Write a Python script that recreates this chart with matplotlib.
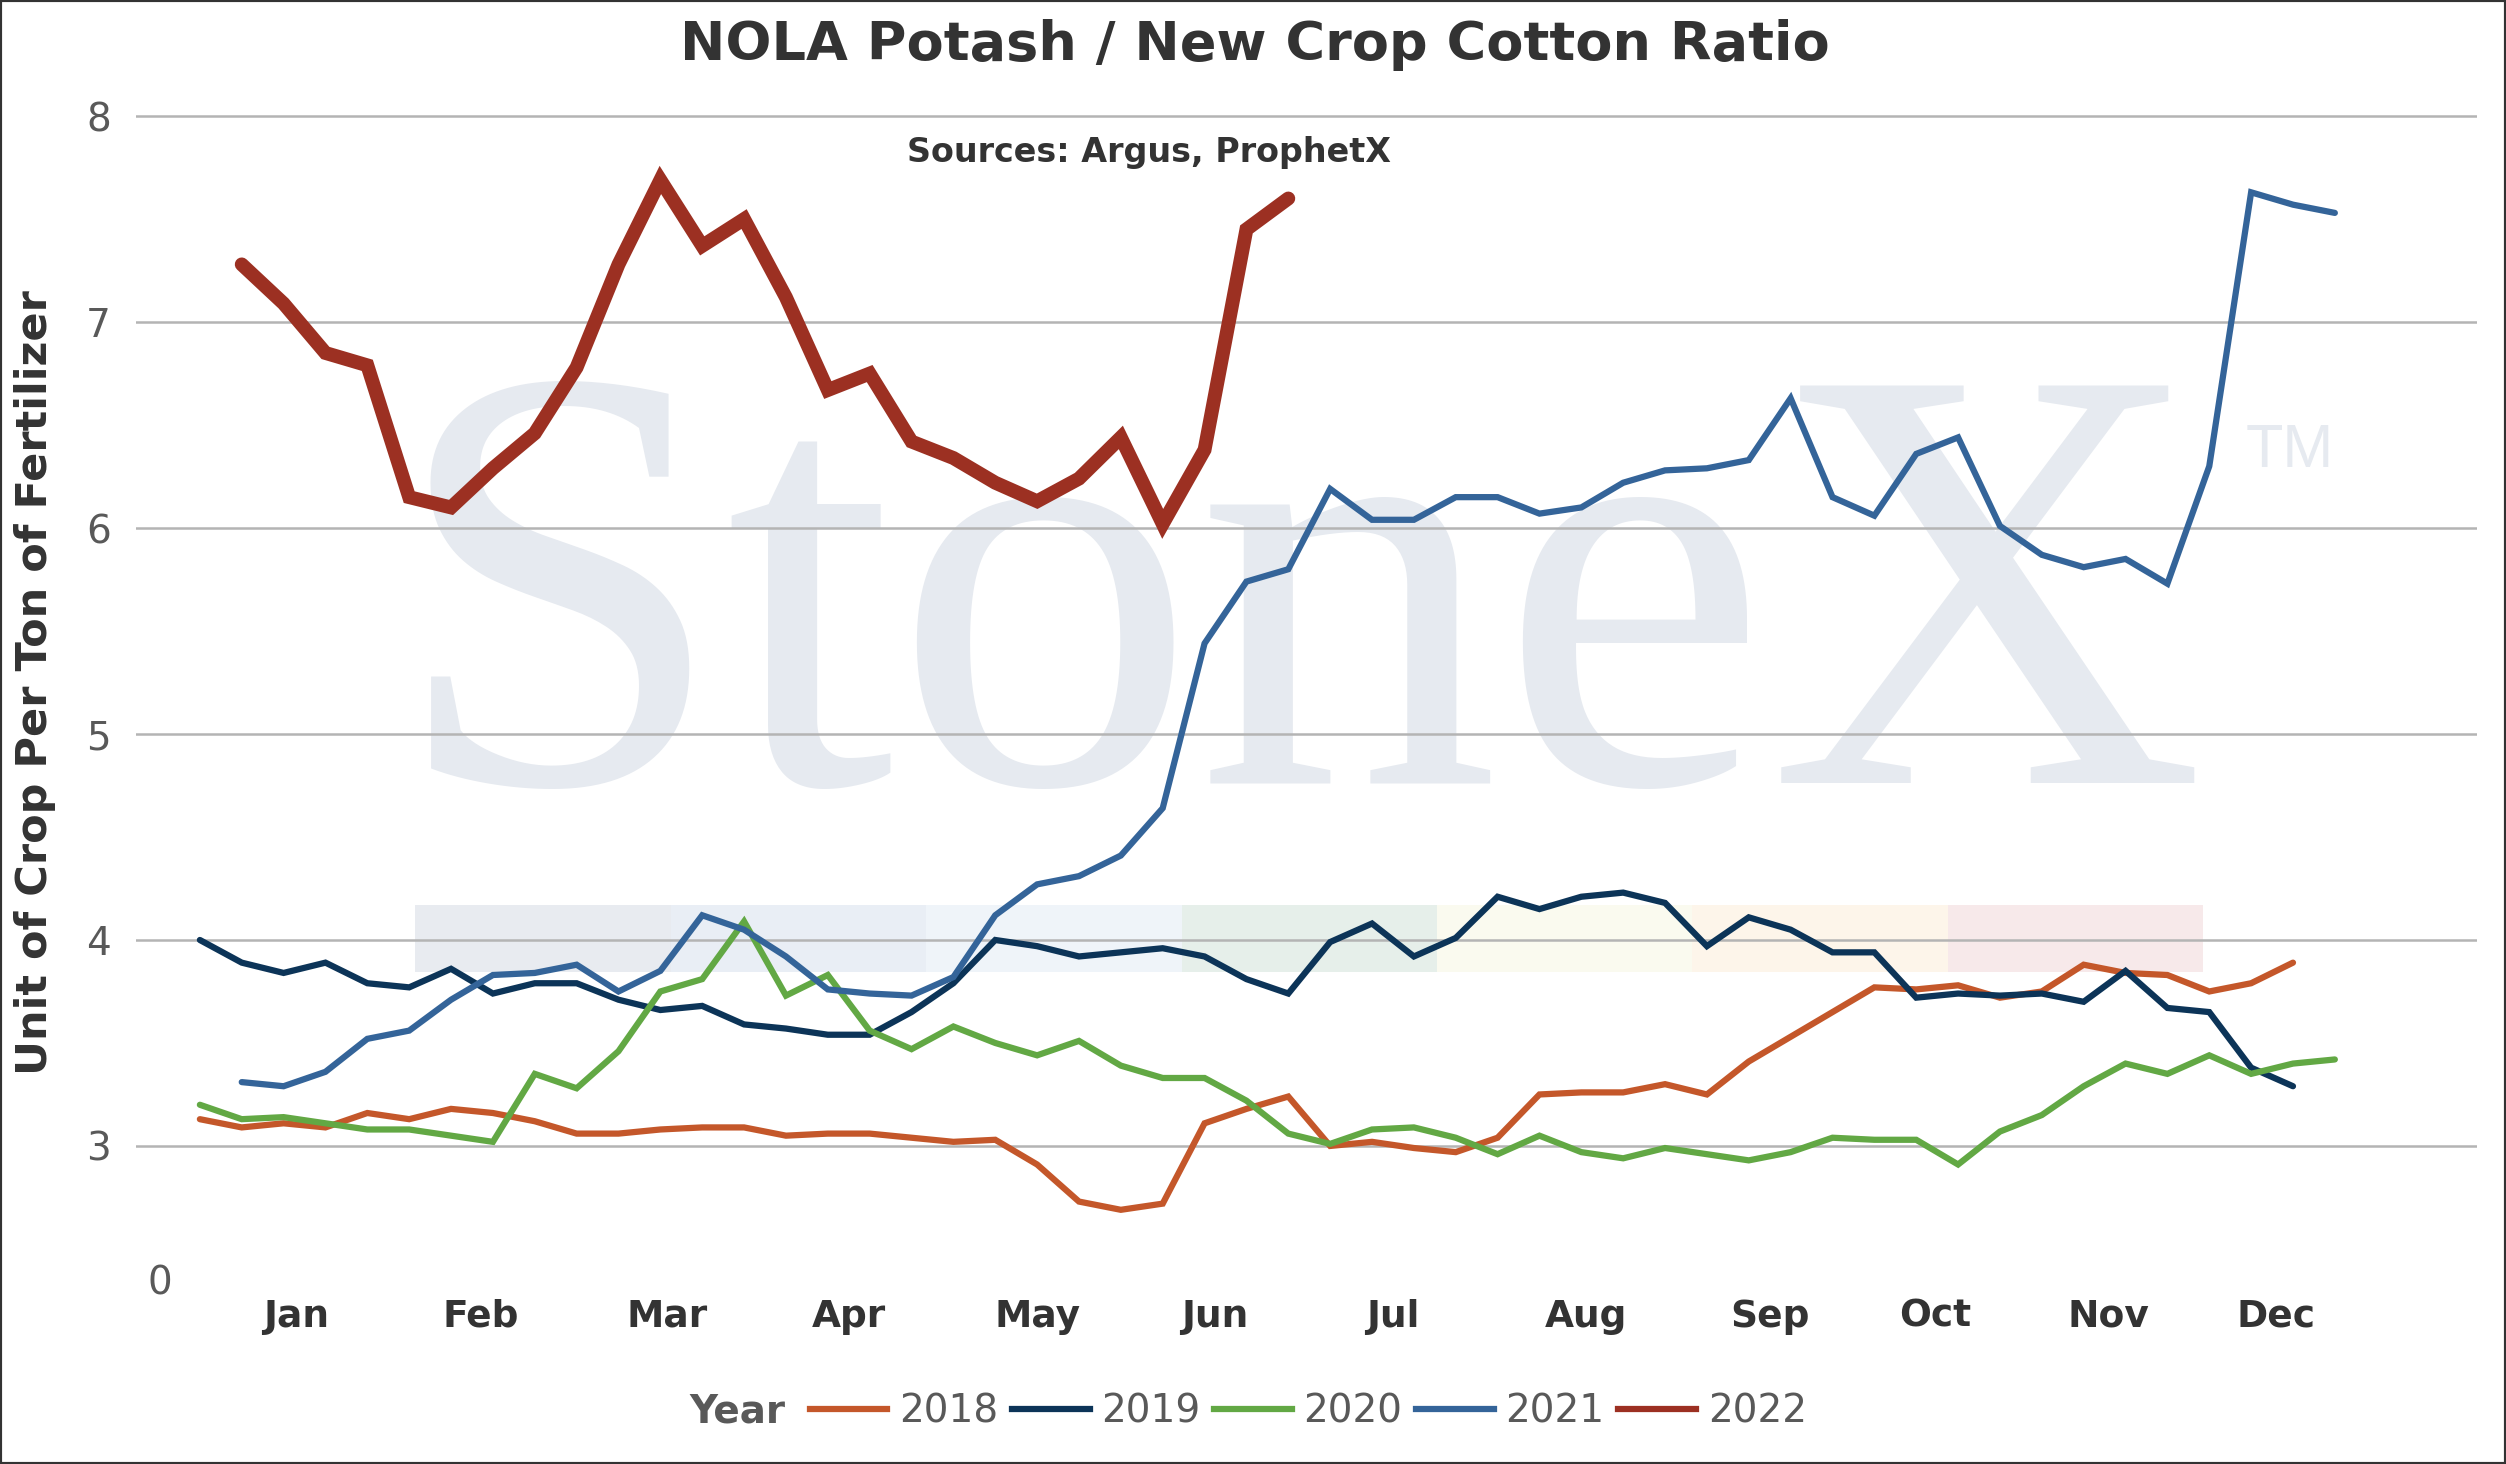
import numpy as np
import matplotlib
matplotlib.use("Agg")
import matplotlib.pyplot as plt
from matplotlib.patches import Rectangle
from matplotlib.lines import Line2D

# weekly ratio values (week index 0..51)
y2018 = [3.13, 3.09, 3.11, 3.09, 3.16, 3.13, 3.18, 3.16, 3.12, 3.06,
         3.06, 3.08, 3.09, 3.09, 3.05, 3.06, 3.06, 3.04, 3.02, 3.03,
         2.91, 2.73, 2.69, 2.72, 3.11, 3.18, 3.24, 3.00, 3.02, 2.99,
         2.97, 3.04, 3.25, 3.26, 3.26, 3.30, 3.25, 3.41, 3.53, 3.65,
         3.77, 3.76, 3.78, 3.72, 3.75, 3.88, 3.84, 3.83, 3.75, 3.79, 3.89]
y2019 = [4.00, 3.89, 3.84, 3.89, 3.79, 3.77, 3.86, 3.74, 3.79, 3.79,
         3.71, 3.66, 3.68, 3.59, 3.57, 3.54, 3.54, 3.65, 3.79, 4.00,
         3.97, 3.92, 3.94, 3.96, 3.92, 3.81, 3.74, 3.99, 4.08, 3.92,
         4.01, 4.21, 4.15, 4.21, 4.23, 4.18, 3.97, 4.11, 4.05, 3.94,
         3.94, 3.72, 3.74, 3.73, 3.74, 3.70, 3.85, 3.67, 3.65, 3.38, 3.29]
y2020 = [3.20, 3.13, 3.14, 3.11, 3.08, 3.08, 3.05, 3.02, 3.35, 3.28,
         3.46, 3.75, 3.81, 4.09, 3.73, 3.83, 3.56, 3.47, 3.58, 3.50,
         3.44, 3.51, 3.39, 3.33, 3.33, 3.22, 3.06, 3.01, 3.08, 3.09,
         3.04, 2.96, 3.05, 2.97, 2.94, 2.99, 2.96, 2.93, 2.97, 3.04,
         3.03, 3.03, 2.91, 3.07, 3.15, 3.29, 3.40, 3.35, 3.44, 3.35, 3.40, 3.42]
# 2021 starts at week 1
y2021 = [3.31, 3.29, 3.36, 3.52, 3.56, 3.71, 3.83, 3.84, 3.88,
         3.75, 3.85, 4.12, 4.05, 3.92, 3.76, 3.74, 3.73, 3.82, 4.12,
         4.27, 4.31, 4.41, 4.64, 5.44, 5.74, 5.80, 6.19, 6.04, 6.04,
         6.15, 6.15, 6.07, 6.10, 6.22, 6.28, 6.29, 6.33, 6.63, 6.15,
         6.06, 6.36, 6.44, 6.01, 5.87, 5.81, 5.85, 5.73, 6.30, 7.63, 7.57, 7.53]
# 2022 starts at week 1
y2022 = [7.28, 7.09, 6.85, 6.79, 6.15, 6.10, 6.29, 6.46, 6.78, 7.28,
         7.69, 7.37, 7.50, 7.12, 6.67, 6.75, 6.42, 6.34, 6.22, 6.13,
         6.24, 6.44, 6.02, 6.38, 7.45, 7.60]

years = ["2018", "2019", "2020", "2021", "2022"]
series = [y2018, y2019, y2020, y2021, y2022]
starts = [0, 0, 0, 1, 1]
colors = ["#c4572a", "#0c3458", "#62a844", "#346499", "#9c3022"]
widths = [4.5, 4.5, 4.5, 4.5, 10]

months = ["Jan", "Feb", "Mar", "Apr", "May", "Jun",
          "Jul", "Aug", "Sep", "Oct", "Nov", "Dec"]
month_pos = [2.3, 6.7, 11.15, 15.5, 20.0, 24.25, 28.5, 33.1, 37.5, 41.45, 45.6, 49.6]

fig = plt.figure(figsize=(25.06, 14.64), dpi=100)
ax = fig.add_axes([0.0542, 0.1234, 0.9343, 0.798])

# watermark logo
ax.text(0.1085, 0.428, "StoneX", transform=ax.transAxes, ha="left", va="baseline",
        fontsize=436, family="Liberation Serif", color="#e6eaf0", zorder=0)
ax.text(0.901, 0.736, "TM", transform=ax.transAxes, ha="left", va="top",
        fontsize=44, family="Liberation Sans", color="#e6eaf0", zorder=0)
band_colors = ["#e8ebf0", "#e9eef5", "#eff4f9", "#e6efea", "#fafaef", "#fdf5ea", "#f7e9ea"]
for k, c in enumerate(band_colors):
    ax.add_patch(Rectangle((5.15 + 6.1 * k, 3.845), 6.1, 0.325, facecolor=c,
                           edgecolor="none", zorder=0.5))

for yr, vals, s, c, w in zip(years, series, starts, colors, widths):
    weeks = np.arange(s, s + len(vals))
    ax.plot(weeks, vals, color=c, lw=w, solid_capstyle="round",
            solid_joinstyle="miter", zorder=3)

ax.set_xlim(-1.53, 54.4)
ax.set_ylim(2.333, 8.005)
ax.set_yticks([3, 4, 5, 6, 7, 8])
ax.set_yticklabels(["3", "4", "5", "6", "7", "8"])
ax.set_xticks(month_pos)
ax.set_xticklabels(months, fontweight="bold", color="#333333", fontsize=27)
ax.tick_params(axis="x", length=0, pad=11)
ax.tick_params(axis="y", length=0, pad=18, labelsize=28, labelcolor="#595959")
ax.grid(axis="y", color="#b4b4b4", lw=1.8, zorder=1)
for sp in ax.spines.values():
    sp.set_visible(False)
ax.text(0.0102, 0.0, "0", transform=ax.transAxes, ha="center", va="center",
        fontsize=28, color="#595959")

fig.text(0.014, 0.534, "Unit of Crop Per Ton of Fertilizer", rotation=90,
         ha="center", va="center", fontsize=31, fontweight="bold", color="#333333")

fig.text(0.5006, 0.969, "NOLA Potash / New Crop Cotton Ratio", ha="center", va="center",
         fontsize=39, fontweight="bold", color="#333333")
fig.text(0.4585, 0.896, "Sources: Argus, ProphetX",
         ha="center", va="center", fontsize=24, fontweight="bold", color="#333333")

handles = [Line2D([0], [0], color=c, lw=4.5) for c in colors]
fig.text(0.3135, 0.036, "Year", ha="right", va="center", fontsize=28,
         fontweight="bold", color="#595959")
fig.legend(handles, years, loc="center", bbox_to_anchor=(0.522, 0.036), ncol=5,
           frameon=False, fontsize=28, handlelength=2.0, handletextpad=0.3,
           columnspacing=0.35, labelcolor="#595959")

fig.patches.append(Rectangle((0, 0), 1, 1, transform=fig.transFigure, fill=False,
                             edgecolor="#333333", lw=3))

fig.savefig("out.png", dpi=100)
